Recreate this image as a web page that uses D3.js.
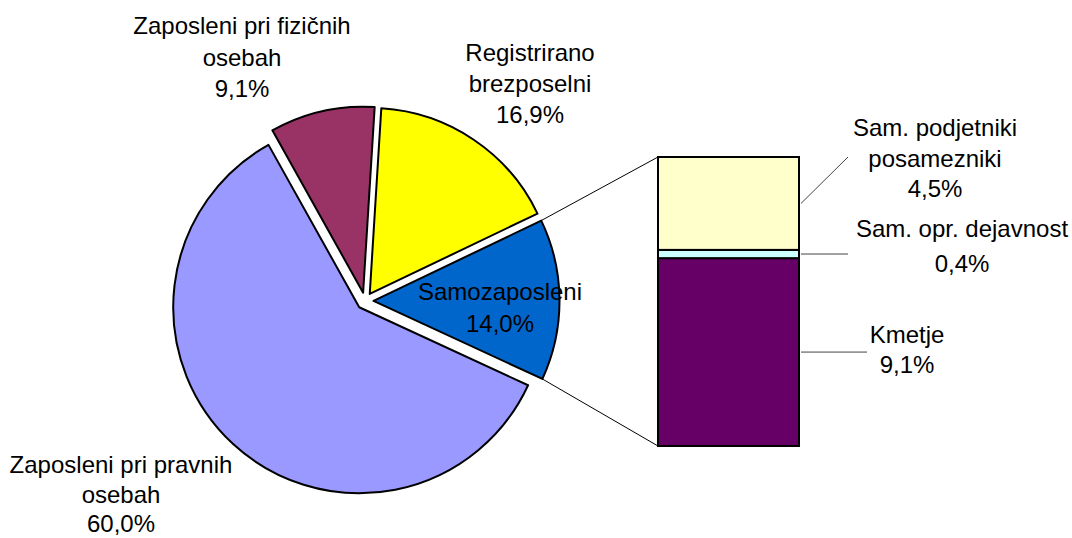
<!DOCTYPE html>
<html>
<head>
<meta charset="utf-8">
<script src="https://cdn.jsdelivr.net/npm/d3@7"></script>
<style>
  html, body { margin: 0; padding: 0; background: #ffffff; }
  svg { display: block; font-family: "Liberation Sans", Arial, sans-serif; }
</style>
</head>
<body>
<svg id="chart" width="1072" height="538"></svg>
<script>
// ---- data ----
const pieCategories = ["Zaposleni pri pravnih osebah", "Zaposleni pri fizičnih osebah", "Registrirano brezposelni", "Samozaposleni"];
const pieValues = [60.0, 9.1, 16.9, 14.0];
const pieLabelLines = [["Zaposleni pri pravnih", "osebah", "60,0%"], ["Zaposleni pri fizičnih", "osebah", "9,1%"], ["Registrirano", "brezposelni", "16,9%"], ["Samozaposleni", "14,0%"]];
const barCategories = ["Kmetje", "Sam. opr. dejavnost", "Sam. podjetniki posamezniki"];
const barValues = [9.1, 0.4, 4.5];
const barLabelLines = [["Kmetje", "9,1%"], ["Sam. opr. dejavnost", "0,4%"], ["Sam. podjetniki", "posamezniki", "4,5%"]];

// ---- styles / layout ----
const pieColors = ["#9999FF", "#993366", "#FFFF00", "#0066CC"];
const barColors = ["#660066", "#CCFFFF", "#FFFFCC"];
const cx = 365, cy = 301, R = 186, explode = 8.5;
const startDeg = 114.8;
const fontSize = 24;

const svg = d3.select("#chart");

const pie = d3.pie().sort(null).value(d => d)
  .startAngle(startDeg * Math.PI / 180)
  .endAngle(startDeg * Math.PI / 180 + 2 * Math.PI);
const arcs = pie(pieValues);
const arc = d3.arc().innerRadius(0).outerRadius(R);

function offset(a) {
  const m = (a.startAngle + a.endAngle) / 2;
  return [explode * Math.sin(m), -explode * Math.cos(m)];
}

// bar scale
const barTop = 157, barBottom = 446, barLeft = 658, barRight = 799;
const total = d3.sum(barValues);
const y = d3.scaleLinear().domain([0, total]).range([barBottom, barTop]);
const stacked = [];
let acc = 0;
barValues.forEach((v, i) => { stacked.push({ i, y0: acc, y1: acc + v }); acc += v; });

// connector lines from blue slice to bar
const samo = arcs[3];
const so = offset(samo);
const p1 = [cx + so[0] + R * Math.sin(samo.startAngle), cy + so[1] - R * Math.cos(samo.startAngle)];
const p2 = [cx + so[0] + R * Math.sin(samo.endAngle), cy + so[1] - R * Math.cos(samo.endAngle)];
svg.append("line").attr("x1", p1[0]).attr("y1", p1[1]).attr("x2", barLeft).attr("y2", y(total))
  .attr("stroke", "#000").attr("stroke-width", 1);
svg.append("line").attr("x1", p2[0]).attr("y1", p2[1]).attr("x2", barLeft).attr("y2", y(0))
  .attr("stroke", "#000").attr("stroke-width", 1);

// pie slices
svg.append("g").selectAll("path").data(arcs).join("path")
  .attr("transform", d => { const o = offset(d); return `translate(${cx + o[0]},${cy + o[1]})`; })
  .attr("d", arc)
  .attr("fill", (d, i) => pieColors[i])
  .attr("stroke", "#000").attr("stroke-width", 2).attr("stroke-linejoin", "round");

// bar segments
svg.append("g").selectAll("rect").data(stacked).join("rect")
  .attr("x", barLeft).attr("width", barRight - barLeft)
  .attr("y", d => y(d.y1)).attr("height", d => y(d.y0) - y(d.y1))
  .attr("fill", d => barColors[d.i])
  .attr("stroke", "#000").attr("stroke-width", 2);

// bar leader lines
const mid = d => (y(d.y0) + y(d.y1)) / 2;
const leaderEnds = [[867, null], [848, null], [848, 157]];
stacked.forEach(d => {
  const e = leaderEnds[d.i];
  const ym = mid(d);
  svg.append("line").attr("x1", barRight + 2).attr("y1", ym)
    .attr("x2", e[0]).attr("y2", e[1] === null ? ym : e[1])
    .attr("stroke", "#444").attr("stroke-width", 1);
});

// labels
function drawLabel(lines, x, yBase, lh) {
  const t = svg.append("text").attr("text-anchor", "middle")
    .attr("font-size", fontSize).attr("fill", "#000");
  lines.forEach((l, k) => t.append("tspan").attr("x", x).attr("y", yBase + k * lh).text(l));
}
const pieLabelPos = [[121, 473, 29.5], [242, 34, 31.5], [530, 61, 31], [500, 300, 32]];
pieLabelLines.forEach((l, i) => drawLabel(l, pieLabelPos[i][0], pieLabelPos[i][1], pieLabelPos[i][2]));
const barLabelPos = [[907, 343, 30], [962, 237, 35], [935, 136, 30.5]];
barLabelLines.forEach((l, i) => drawLabel(l, barLabelPos[i][0], barLabelPos[i][1], barLabelPos[i][2]));
</script>
</body>
</html>
